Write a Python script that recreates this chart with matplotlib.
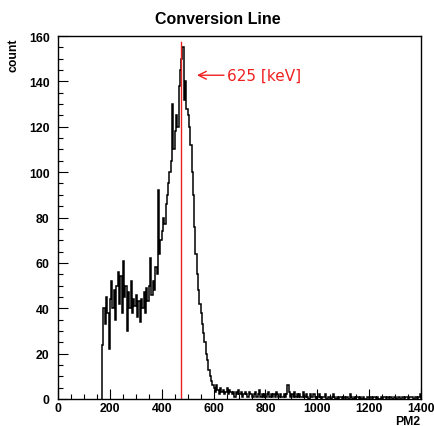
import matplotlib
matplotlib.use('Agg')
import matplotlib.pyplot as plt
from matplotlib.ticker import MultipleLocator
import numpy as np

# ---- data ----
bin_width = 5
hist_start = 170
main_counts = [
    24, 40, 33, 45, 38, 22, 44, 52, 40, 48,
    35, 50, 56, 42, 54, 38, 61, 45, 50, 30,
    47, 40, 52, 38, 44, 41, 46, 36, 43, 34,
    44, 40, 47, 38, 49, 43, 50, 62, 46, 52,
    48, 58, 55, 92, 64, 70, 74, 80, 77, 86,
    90, 95, 100, 105, 130, 110, 118, 125, 120, 138,
    145, 150, 155, 132, 140, 128, 125, 120, 112, 100,
    90, 76, 64, 55, 48, 42, 38, 33, 29, 25,
    20, 17, 13, 10, 8, 6,
]
tail_counts = [
    5, 3, 6, 4, 2, 5, 3, 4, 2, 3, 5, 2, 4, 3, 2, 3, 1, 3, 2, 4,
    2, 3, 1, 2, 3, 2, 1, 3, 2, 2, 1, 2, 3, 1, 2, 4, 1, 2, 1, 2,
    1, 2, 3, 1, 2, 1, 2, 1, 3, 2, 1, 2, 1, 1, 2, 1, 2, 6, 3, 1,
    2, 1, 3, 1, 2, 1, 2, 1, 1, 3, 1, 2, 1, 0, 2, 1, 1, 2, 1, 0,
    1, 2, 1, 0, 1, 1, 2, 0, 1, 1, 0, 1, 2, 1, 0, 1, 0, 1, 1, 0,
    1, 0, 1, 1, 0, 2, 1, 0, 1, 0, 1, 1, 0, 1, 0, 1, 0, 0, 1, 1,
    0, 1, 0, 1, 1, 0, 1, 0, 0, 1, 0, 1, 1, 0, 1, 0, 1, 1, 0, 1,
    1, 0, 1, 1, 0, 1, 1, 0, 1, 1, 0, 1, 1, 1, 0, 1, 1, 0, 1, 2,
]
line_energy_x = 474
line_top = 157.5
annotation = "625 [keV]"
annotation_y = 142.7
arrow_head_x = 536
arrow_tail_x = 640
text_x = 650
title = "Conversion Line"
xlabel = "PM2"
ylabel = "count"
x_range = (0, 1400)
y_range = (0, 160)

counts = np.array(main_counts + tail_counts, dtype=float)
edges = hist_start + bin_width * np.arange(len(counts) + 1)

# ---- figure ----
plt.rcParams['font.family'] = ['Liberation Sans', 'DejaVu Sans']
fig = plt.figure(figsize=(4.35, 4.27), dpi=100)
ax = fig.add_axes([58/435, 1-400/427, (421-58)/435, (400-37)/427])

ax.stairs(counts, edges, color='black', lw=1.1, baseline=0)
ax.plot([line_energy_x, line_energy_x], [0, line_top], color='#e8211f', lw=1)

ax.annotate('', xy=(arrow_head_x, annotation_y), xytext=(arrow_tail_x, annotation_y),
            arrowprops=dict(arrowstyle='->', color='#f02020', lw=1, mutation_scale=14,
                            shrinkA=0, shrinkB=0))
ax.text(text_x, annotation_y, annotation, color='#f02020', fontsize=11,
        family=['DejaVu Sans'], va='center', ha='left')

ax.set_xlim(*x_range)
ax.set_ylim(*y_range)
ax.xaxis.set_major_locator(MultipleLocator(200))
ax.xaxis.set_minor_locator(MultipleLocator(50))
ax.yaxis.set_major_locator(MultipleLocator(20))
ax.yaxis.set_minor_locator(MultipleLocator(5))
ax.tick_params(direction='in', which='both', top=False, right=False, width=0.8)
ax.tick_params(axis='y', which='major', length=7, pad=6)
ax.tick_params(axis='y', which='minor', length=3.6)
ax.tick_params(axis='x', which='major', length=7, pad=2)
ax.tick_params(axis='x', which='minor', length=3.6)
for lab in ax.get_xticklabels() + ax.get_yticklabels():
    lab.set_fontweight('bold')
    lab.set_fontsize(8.8)
for s in ax.spines.values():
    s.set_linewidth(1)

fig.text(0.5, 1-20/427, title, ha='center', va='center', fontsize=11.5, fontweight='bold')
fig.text(14/435, 1-39/427, ylabel, rotation=90, ha='center', va='top', fontsize=8.8, fontweight='bold')
fig.text(420/435, 1-422/427, xlabel, ha='right', va='center', fontsize=8.8, fontweight='bold')

fig.savefig('out.png', dpi=100)
